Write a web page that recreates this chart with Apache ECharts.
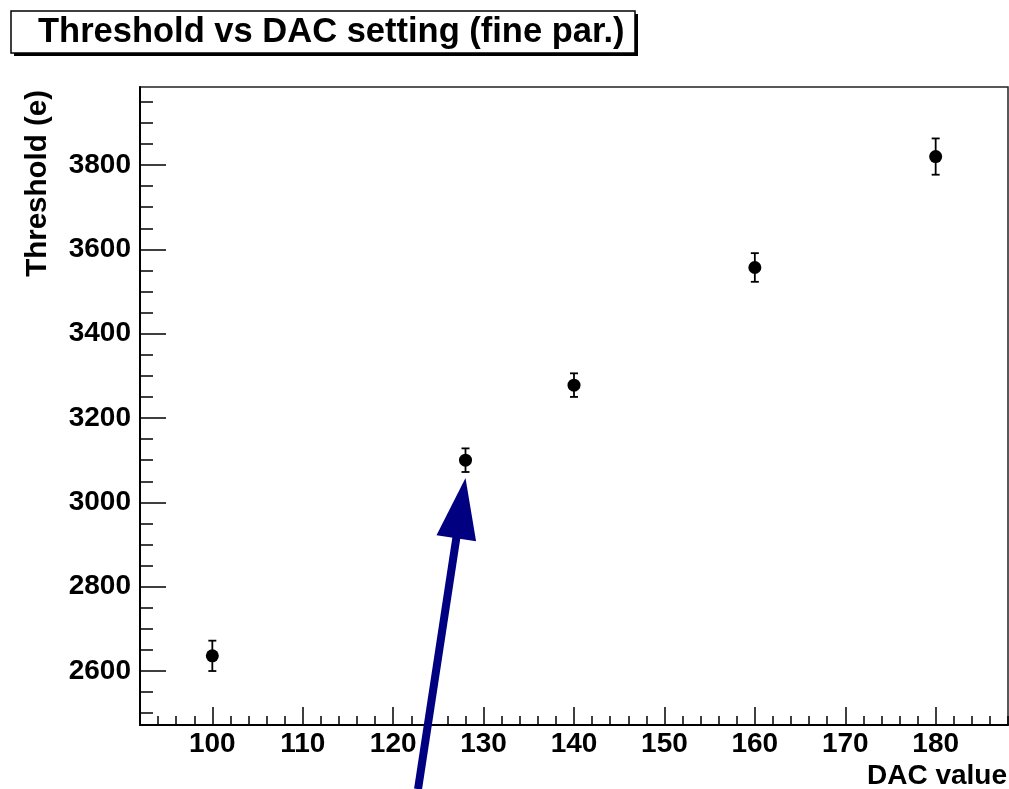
<!DOCTYPE html>
<html>
<head>
<meta charset="utf-8" />
<title>Threshold vs DAC setting</title>
<script src="https://cdn.jsdelivr.net/npm/echarts@6/dist/echarts.min.js"></script>
<style>
  html, body { margin: 0; padding: 0; background: #fff; }
  #main { width: 1009px; height: 789px; }
</style>
</head>
<body>
<div id="main"></div>
<script>
// data
var dacValues  = [100, 128, 140, 160, 180];
var thresholds = [2636, 3100, 3278, 3557, 3820];
var errors     = [36, 28, 28, 34, 43];

var xMajorTicks = [100, 110, 120, 130, 140, 150, 160, 170, 180];
var yMajorTicks = [2600, 2800, 3000, 3200, 3400, 3600, 3800];

// arrow annotation (data coords): tail below axis, tip just under the 128 point
var arrowTail = [122.75, 2320];
var arrowTip  = [128, 3058];

var xMin = 92, xMax = 188, yMin = 2472, yMax = 3985;

// minor ticks every 2 on x, every 50 on y
var xMinorTicks = [];
for (var v = xMin; v <= xMax; v += 2) { if (v % 10 !== 0) xMinorTicks.push(v); }
var yMinorTicks = [];
for (var w = 2500; w <= yMax; w += 50) { if (w % 200 !== 0) yMinorTicks.push(w); }

var points = [], bars = [];
for (var i = 0; i < dacValues.length; i++) {
  points.push([dacValues[i], thresholds[i]]);
  bars.push([dacValues[i], thresholds[i], errors[i]]);
}

var FONT = '"Liberation Sans", Arial, Helvetica, sans-serif';
var chart = echarts.init(document.getElementById('main'));

function plain(val) { return String(val); }

var option = {
  backgroundColor: '#fff',
  animation: false,
  grid: { left: 140, top: 87, right: 1, bottom: 64, show: true, borderColor: '#222', borderWidth: 1.5, backgroundColor: 'transparent' },
  xAxis: [{
    type: 'value', min: xMin, max: xMax, position: 'bottom',
    axisLine: { show: true, lineStyle: { color: '#000', width: 2 } },
    axisTick: { show: true, inside: true, length: 18, lineStyle: { color: '#000', width: 1.5 }, customValues: xMajorTicks },
    axisLabel: { customValues: xMajorTicks, formatter: plain, color: '#000', fontFamily: FONT, fontWeight: 'bold', fontSize: 28, margin: 5 },
    splitLine: { show: false }
  }, {
    type: 'value', min: xMin, max: xMax, position: 'bottom',
    axisLine: { show: false },
    axisTick: { show: true, inside: true, length: 9, lineStyle: { color: '#000', width: 1.5 }, customValues: xMinorTicks },
    axisLabel: { show: false },
    splitLine: { show: false }
  }],
  yAxis: [{
    type: 'value', min: yMin, max: yMax, position: 'left',
    axisLine: { show: true, lineStyle: { color: '#000', width: 2 } },
    axisTick: { show: true, inside: true, length: 26, lineStyle: { color: '#000', width: 1.5 }, customValues: yMajorTicks },
    axisLabel: { customValues: yMajorTicks, formatter: plain, color: '#000', fontFamily: FONT, fontWeight: 'bold', fontSize: 28, margin: 9 },
    splitLine: { show: false }
  }, {
    type: 'value', min: yMin, max: yMax, position: 'left',
    axisLine: { show: false },
    axisTick: { show: true, inside: true, length: 13, lineStyle: { color: '#000', width: 1.5 }, customValues: yMinorTicks },
    axisLabel: { show: false },
    splitLine: { show: false }
  }],
  series: [{
    type: 'custom',
    name: 'errors',
    data: bars,
    renderItem: function (params, api) {
      var x = api.value(0), y = api.value(1), e = api.value(2);
      var top = api.coord([x, y + e]);
      var bot = api.coord([x, y - e]);
      var cap = 4;
      var st = { stroke: '#000', lineWidth: 1.8 };
      return {
        type: 'group',
        children: [
          { type: 'line', shape: { x1: top[0], y1: top[1], x2: bot[0], y2: bot[1] }, style: st },
          { type: 'line', shape: { x1: top[0] - cap, y1: top[1], x2: top[0] + cap, y2: top[1] }, style: st },
          { type: 'line', shape: { x1: bot[0] - cap, y1: bot[1], x2: bot[0] + cap, y2: bot[1] }, style: st }
        ]
      };
    },
    z: 2
  }, {
    type: 'scatter',
    name: 'threshold',
    data: points,
    symbol: 'circle',
    symbolSize: 13,
    itemStyle: { color: '#000', opacity: 1 },
    z: 3
  }]
};
chart.setOption(option);

// title box, axis titles and arrow
var tip = chart.convertToPixel({ gridIndex: 0 }, arrowTip);
var tail = chart.convertToPixel({ gridIndex: 0 }, arrowTail);
var dx = tip[0] - tail[0], dy = tip[1] - tail[1];
var len = Math.sqrt(dx * dx + dy * dy);
var ux = dx / len, uy = dy / len;
var nx = -uy, ny = ux;
var headLen = 61, headHalf = 20;
var base = [tip[0] - ux * headLen, tip[1] - uy * headLen];

chart.setOption({
  graphic: [
    { type: 'rect', shape: { x: 14, y: 14, width: 624, height: 42 }, style: { fill: '#000' }, z: 10 },
    { type: 'rect', shape: { x: 11, y: 11, width: 624, height: 42 }, style: { fill: '#fff', stroke: '#000', lineWidth: 1.5 }, z: 11 },
    { type: 'text', x: 38, y: 32, style: { text: 'Threshold vs DAC setting (fine par.)', font: 'bold 34.5px ' + FONT, fill: '#000', textAlign: 'left', textVerticalAlign: 'middle' }, z: 12 },
    { type: 'text', x: 38, y: 90, rotation: Math.PI / 2, style: { text: 'Threshold (e)', font: 'bold 29.5px ' + FONT, fill: '#000', textAlign: 'right', textVerticalAlign: 'middle' }, z: 12 },
    { type: 'text', x: 1007, y: 776, style: { text: 'DAC value', font: 'bold 28px ' + FONT, fill: '#000', textAlign: 'right', textVerticalAlign: 'middle' }, z: 12 },
    { type: 'line', shape: { x1: tail[0], y1: tail[1], x2: base[0] + ux * 2, y2: base[1] + uy * 2 }, style: { stroke: '#000080', lineWidth: 8 }, z: 20 },
    { type: 'polygon', shape: { points: [tip, [base[0] + nx * headHalf, base[1] + ny * headHalf], [base[0] - nx * headHalf, base[1] - ny * headHalf]] }, style: { fill: '#000080' }, z: 20 }
  ]
});
</script>
</body>
</html>
